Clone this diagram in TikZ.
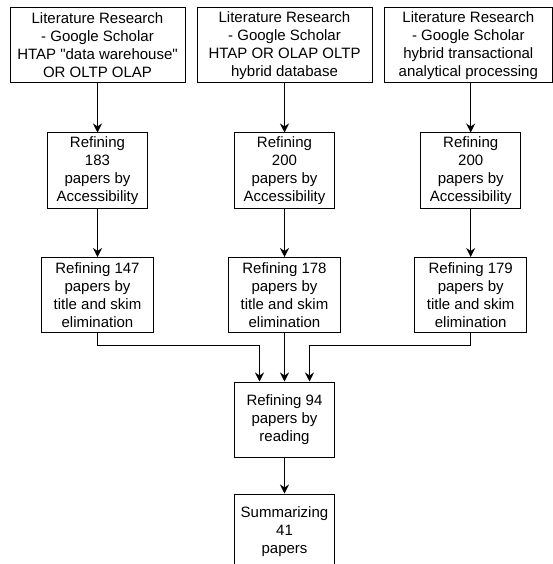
\documentclass[tikz,border=0pt]{standalone}
\usepackage{fontspec}
\setmainfont{Liberation Sans}
\usepackage{tikz}
\usetikzlibrary{arrows.meta, positioning}

\begin{document}
\begin{tikzpicture}[x=1pt, y=-1pt,
  box/.style={draw, line width=1pt, inner sep=0pt, align=center,
    font=\fontsize{15}{18}\selectfont, minimum height=75pt},
  search/.style={box, minimum width=175pt},
  access/.style={box, minimum width=100pt},
  skim/.style={box, minimum width=112.5pt},
  flow/.style={line width=1pt, -{Stealth[length=9pt, width=9pt, inset=3pt]}}]
  \useasboundingbox (0,0) rectangle (553,564);
  \clip (0,0) rectangle (553,564);

  % --- Literature search ---
  \node[search] (lit1) at (97.5,45.5)
    {Literature Research\\- Google Scholar\\HTAP \textquotedbl data warehouse\textquotedbl\\OR OLTP OLAP};
  \node[search] (lit2) at (284.5,45.5)
    {Literature Research\\- Google Scholar\\HTAP OR OLAP OLTP\\hybrid database};
  \node[search, minimum width=168.5pt] (lit3) at (468.3,45.5)
    {Literature Research\\- Google Scholar\\hybrid transactional\\analytical processing};

  % --- Accessibility ---
  \node[access] (acc1) at (97.5,170.5) {Refining\\183\\papers by\\Accessibility};
  \node[access] (acc2) at (284.5,170.5) {Refining\\200\\papers by\\Accessibility};
  \node[access] (acc3) at (470.7,170.5) {Refining\\200\\papers by\\Accessibility};

  % --- Title and skim ---
  \node[skim] (skim1) at (97.5,295) {Refining 147\\papers by\\title and skim\\elimination};
  \node[skim] (skim2) at (284.5,295) {Refining 178\\papers by\\title and skim\\elimination};
  \node[skim] (skim3) at (470.7,295) {Refining 179\\papers by\\title and skim\\elimination};

  % --- Reading and summary ---
  \node[access] (read) at (284.5,419.5) {Refining 94\\papers by\\reading};
  \node[access] (summ) at (284.5,531.5) {Summarizing\\41\\papers};

  \draw[flow] (lit1.south) -- (acc1.north);
  \draw[flow] (lit2.south) -- (acc2.north);
  \draw[flow] (acc3.north |- lit3.south) -- (acc3.north);
  \draw[flow] (acc1.south) -- (skim1.north);
  \draw[flow] (acc2.south) -- (skim2.north);
  \draw[flow] (acc3.south) -- (skim3.north);
  \draw[flow] (skim1.south) -- ++(0,12.5) -| ([xshift=-25pt]read.north);
  \draw[flow] (skim2.south) -- (read.north);
  \draw[flow] (skim3.south) -- ++(0,12.5) -| ([xshift=25pt]read.north);
  \draw[flow] (read.south) -- (summ.north);
\end{tikzpicture}
\end{document}
